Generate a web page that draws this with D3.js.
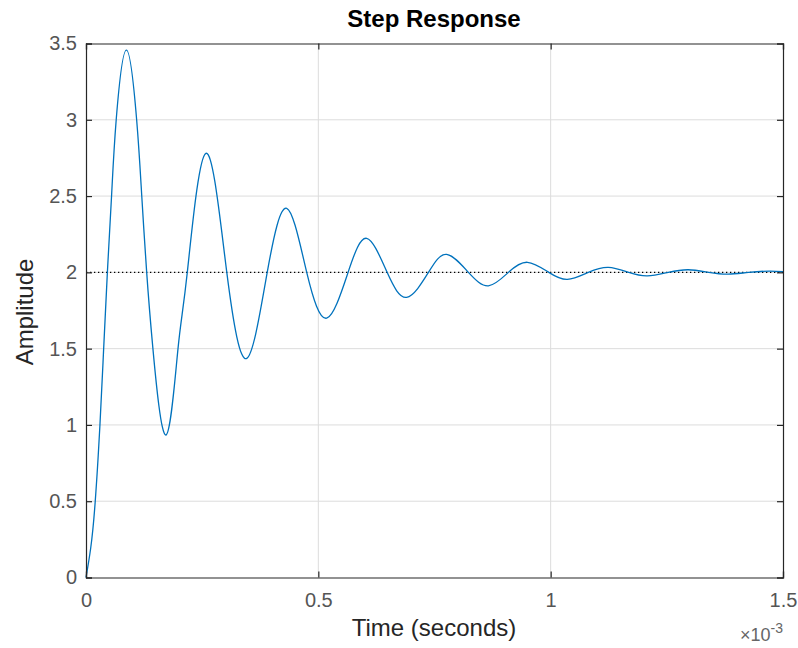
<!DOCTYPE html>
<html><head><meta charset="utf-8">
<script src="https://cdn.jsdelivr.net/npm/d3@7"></script>
<style>body{margin:0;background:#fff}svg{display:block}</style>
</head><body>
<svg id="c" width="798" height="648"></svg>
<script>
// time in units of 1e-3 s, amplitude
const timeMs = [0, 0.010, 0.0194, 0.030, 0.038, 0.046, 0.055, 0.065, 0.087, 0.109, 0.120, 0.1306, 0.144, 0.172,
  0.198, 0.218, 0.258, 0.303, 0.346, 0.390, 0.432, 0.475, 0.518, 0.564, 0.604, 0.648, 0.690, 0.737, 0.776, 0.823, 0.866,
  0.909, 0.950, 0.996, 1.036, 1.081, 1.124, 1.168, 1.208, 1.253, 1.296, 1.340, 1.382, 1.426, 1.470, 1.500];
const amplitude = [0, 0.19, 0.48, 1.0, 1.5, 2.0, 2.5, 3.0, 3.457, 3.0, 2.5, 2.0, 1.5, 0.934,
  1.5, 2.0, 2.78, 2.0, 1.436, 2.0, 2.42, 2.0, 1.70, 2.0, 2.223, 2.0, 1.836, 2.0, 2.118, 2.0, 1.912,
  2.0, 2.066, 2.0, 1.954, 2.0, 2.033, 2.0, 1.977, 2.0, 2.017, 2.0, 1.988, 2.0, 2.008, 2.004];
const finalValue = 2;
const xTicks = [0, 0.5, 1, 1.5];
const yTicks = [0, 0.5, 1, 1.5, 2, 2.5, 3, 3.5];
const titleText = "Step Response";
const xLabel = "Time (seconds)";
const yLabel = "Amplitude";

const svg = d3.select("#c");
const L = 86, R = 783, T = 43.5, B = 577.5;
const x = d3.scaleLinear().domain([0, 1.5]).range([L, R]);
const y = d3.scaleLinear().domain([0, 3.5]).range([B, T]);
const font = "'Liberation Sans', Arial, Helvetica, sans-serif";
const axisCol = "#262626", tickTextCol = "#555555", gridCol = "#dcdcdc";

// grid
const g = svg.append("g");
g.selectAll(".gx").data(xTicks.slice(1, -1)).join("line")
  .attr("x1", d => x(d)).attr("x2", d => x(d)).attr("y1", T).attr("y2", B)
  .attr("stroke", gridCol).attr("stroke-width", 1);
g.selectAll(".gy").data(yTicks.slice(1, -1)).join("line")
  .attr("x1", L).attr("x2", R).attr("y1", d => y(d)).attr("y2", d => y(d))
  .attr("stroke", gridCol).attr("stroke-width", 1);

// final value dotted
svg.append("line").attr("x1", L).attr("x2", R).attr("y1", y(finalValue)).attr("y2", y(finalValue))
  .attr("stroke", "#000").attr("stroke-width", 1.3).attr("stroke-dasharray", "1.3,2.7");

// curve
const pts = timeMs.map((t, i) => [t, amplitude[i]]);
svg.append("path").datum(pts)
  .attr("d", d3.line().x(d => x(d[0])).y(d => y(d[1])).curve(d3.curveNatural))
  .attr("fill", "none").attr("stroke", "#0072BD").attr("stroke-width", 1.3);

// axes (ticks inward, box)
const tl = 6;
const fmt = d => d3.format("")(d);
const gb = svg.append("g").attr("transform", `translate(0,${B})`).call(d3.axisBottom(x).tickValues(xTicks).tickSize(-tl).tickPadding(15).tickFormat(fmt));
const gt = svg.append("g").attr("transform", `translate(0,${T})`).call(d3.axisTop(x).tickValues(xTicks).tickSize(-tl).tickFormat(""));
const gl = svg.append("g").attr("transform", `translate(${L},0)`).call(d3.axisLeft(y).tickValues(yTicks).tickSize(-tl).tickPadding(9).tickFormat(fmt));
const gr = svg.append("g").attr("transform", `translate(${R},0)`).call(d3.axisRight(y).tickValues(yTicks).tickSize(-tl).tickFormat(""));
[gb, gt, gl, gr].forEach(a => {
  a.select(".domain").attr("stroke", axisCol).attr("stroke-width", 1.2);
  a.selectAll(".tick line").attr("stroke", axisCol).attr("stroke-width", 1.2);
  a.selectAll("text").attr("fill", tickTextCol).style("font-family", font).style("font-size", "20px");
});

// labels
svg.append("text").attr("x", 434).attr("y", 27).attr("text-anchor", "middle")
  .style("font-family", font).style("font-size", "24px").style("font-weight", "bold").attr("fill", "#000").text(titleText);
svg.append("text").attr("x", 434).attr("y", 636).attr("text-anchor", "middle")
  .style("font-family", font).style("font-size", "24px").attr("fill", "#262626").text(xLabel);
svg.append("text").attr("transform", "translate(33,312) rotate(-90)").attr("text-anchor", "middle")
  .style("font-family", font).style("font-size", "24px").attr("fill", "#262626").text(yLabel);
const ex = svg.append("text").attr("x", 783).attr("y", 641).attr("text-anchor", "end")
  .style("font-family", font).style("font-size", "18px").attr("fill", "#666666");
ex.append("tspan").text("×10");
ex.append("tspan").attr("dy", -8).style("font-size", "14px").text("-3");
</script>
</body></html>
